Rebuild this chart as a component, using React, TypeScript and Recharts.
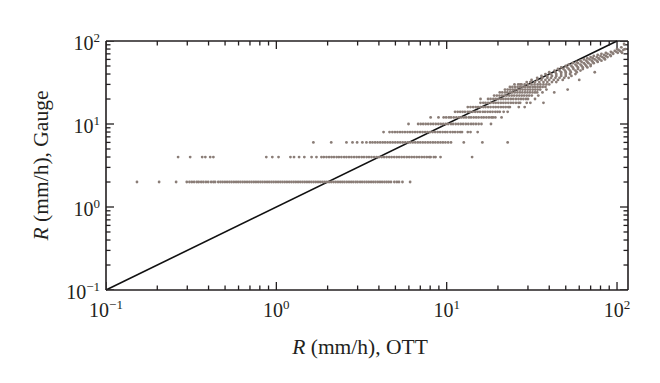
import React from 'react';
import { ScatterChart, Scatter, XAxis, YAxis, ReferenceLine, Label } from 'recharts';

// OTT rain rate (x) observed for each quantized gauge rain rate (y), mm/h
const ott_g2 = [0.152,0.205,0.258,0.298,0.309,0.319,0.329,0.341,0.35,0.362,0.373,0.386,0.398,0.414,0.427,0.437,0.456,0.47,0.484,0.499,0.514,0.53,0.546,0.563,0.58,0.597,0.615,0.634,0.653,0.673,0.694,0.715,0.737,0.759,0.782,0.806,0.83,0.856,0.882,0.908,0.936,0.964,0.994,1.024,1.055,1.087,1.12,1.154,1.19,1.226,1.263,1.301,1.341,1.382,1.424,1.467,1.512,1.558,1.605,1.654,1.704,1.756,1.809,1.864,1.921,1.979,2.04,2.1,2.165,2.23,2.3,2.37,2.44,2.51,2.59,2.67,2.75,2.83,2.92,3.0,3.1,3.19,3.29,3.39,3.49,3.6,3.71,3.82,3.94,4.06,4.18,4.31,4.44,4.57,4.71,4.93,5.1,5.25,5.5,6.1];
const ott_g4 = [0.265,0.312,0.367,0.383,0.409,0.427,0.873,0.947,1.03,1.21,1.27,1.36,1.46,1.61,1.72,1.84,1.9,1.97,2.04,2.11,2.18,2.26,2.33,2.41,2.5,2.58,2.67,2.76,2.86,2.96,3.06,3.17,3.27,3.39,3.5,3.62,3.75,3.88,4.01,4.15,4.29,4.44,4.6,4.75,4.92,5.09,5.26,5.44,5.63,5.83,6.03,6.23,6.45,6.67,6.9,7.14,7.39,7.64,7.9,8.05,8.4,8.6,9.2,14.1];
const ott_g6 = [1.65,2.1,2.58,2.8,2.98,3.2,3.38,3.55,3.67,3.8,3.93,4.07,4.21,4.35,4.5,4.66,4.82,4.99,5.16,5.34,5.52,5.71,5.91,6.11,6.32,6.54,6.77,7.0,7.24,7.49,7.75,8.02,8.3,8.58,8.88,9.19,9.5,9.83,10.2,10.6,12.6,16.2,22.8];
const ott_g8 = [4.26,4.62,4.8,4.97,5.14,5.32,5.5,5.69,5.89,6.09,6.3,6.52,6.74,6.98,7.22,7.47,7.72,7.99,8.27,8.55,8.85,9.15,9.47,9.8,10.1,10.5,10.85,11.2,11.6,12.0,12.3,13.3,13.8,15.2];
const ott_g10 = [5.97,6.8,7.04,7.28,7.53,7.79,8.06,8.34,8.63,8.93,9.23,9.55,9.88,10.2,10.6,10.9,11.3,11.7,12.1,12.5,12.95,13.4,13.9,14.35,14.85,15.4,16.0,18.2];
const ott_g12 = [8.05,8.95,9.6,9.93,10.3,10.6,11.0,11.4,11.8,12.2,12.6,13.0,13.5,13.9,14.4,14.9,15.4,16.0,16.5,17.1,17.7,18.3,18.7,19.3,21.0];
const ott_g14 = [11.2,11.6,12.0,12.4,12.8,13.3,13.7,14.2,14.7,15.2,15.7,16.3,16.8,17.4,18.0,18.6,19.3,19.9,20.5,21.6,22.8];
const ott_g16 = [13.3,13.8,14.3,14.8,15.3,15.8,16.4,16.9,17.5,18.1,18.8,19.4,20.1,20.8,21.5,22.2,23.0,23.5,26.5,28.7];
const ott_g18 = [15.8,16.4,16.9,17.5,18.1,18.8,19.4,20.1,20.8,21.5,22.2,23.0,23.8,24.6,25.5,26.4,27.0,29.5,31.0,37.0];
const ott_g20 = [15.8,17.5,18.1,18.8,19.4,20.1,20.8,21.5,22.2,23.0,23.8,24.6,25.5,26.4,27.3,28.2,29.2,30.0,33.0];
const ott_g22 = [19.0,19.7,20.4,21.1,21.8,22.5,23.3,24.1,24.9,25.8,26.7,27.6,28.5,29.5,30.5,31.6,34.5];
const ott_g24 = [20.5,21.2,22.0,22.7,23.5,24.3,25.1,26.0,26.9,27.8,28.8,29.8,30.8,31.9,33.0,34.0,36.5,42.8];
const ott_g26 = [22.0,22.8,23.6,24.4,25.2,26.1,27.0,27.9,28.9,29.9,30.9,32.0,33.1,34.2,35.4,38.5,51.3];
const ott_g28 = [23.5,24.3,25.2,26.1,27.0,27.9,28.9,29.9,30.9,32.0,33.1,34.2,35.4,36.6,38.0];
const ott_g30 = [25.0,26.3,27.0,27.5,28.7,30.0,31.5,32.8,34.2,35.5,37.0,38.5,40.0];
const ott_g32 = [29.5,31,33,35,37,39,41.5,44];
const ott_g34 = [31.5,34,36,38,40,42.5,45,48,60];
const ott_g36 = [34,36.5,39,41,43.5,46,49,52];
const ott_g38 = [36,39,41.5,44,47,50,54];
const ott_g40 = [38,41,44,47,50,53,57];
const ott_g42 = [40,43.5,47,50,53.5,58,74];
const ott_g44 = [43,46,49.5,53,57,61];
const ott_g46 = [45,48.5,52,55.5,59,63];
const ott_g48 = [47,51,55,59,63,67];
const ott_g50 = [50,54,58,62,66,70];
const ott_g52 = [52,57,61,65,70];
const ott_g54 = [55,59,64,68,73];
const ott_g56 = [58,62,67,72,77];
const ott_g58 = [61,66,71,76,81];
const ott_g60 = [64,69,74,79,85];
const ott_g62 = [67,72,78,84];
const ott_g64 = [70,76,82,88];
const ott_g66 = [73,80,86,92];
const ott_g68 = [77,84,91];
const ott_g70 = [81,88,95];
const ott_g72 = [86,94,101,107];
const ott_g74 = [92,99,106];
const ott_g76 = [97,104];
const ott_g78 = [102,109];
const ott_g80 = [100,112];
const ott_g84 = [106];
const ott_g92 = [110];

const GAUGE_ROWS: [number, number[]][] = [
  [2, ott_g2], [4, ott_g4], [6, ott_g6], [8, ott_g8], [10, ott_g10], [12, ott_g12],
  [14, ott_g14], [16, ott_g16], [18, ott_g18], [20, ott_g20], [22, ott_g22], [24, ott_g24],
  [26, ott_g26], [28, ott_g28], [30, ott_g30], [32, ott_g32], [34, ott_g34], [36, ott_g36],
  [38, ott_g38], [40, ott_g40], [42, ott_g42], [44, ott_g44], [46, ott_g46], [48, ott_g48],
  [50, ott_g50], [52, ott_g52], [54, ott_g54], [56, ott_g56], [58, ott_g58], [60, ott_g60],
  [62, ott_g62], [64, ott_g64], [66, ott_g66], [68, ott_g68], [70, ott_g70], [72, ott_g72],
  [74, ott_g74], [76, ott_g76], [78, ott_g78], [80, ott_g80], [84, ott_g84], [92, ott_g92],
];

const X_DOMAIN: [number, number] = [0.1, 116];
const Y_DOMAIN: [number, number] = [0.1, 100];
const X_TICKS = [0.1,0.2,0.3,0.4,0.5,0.6,0.7,0.8,0.9,1,2,3,4,5,6,7,8,9,10,20,30,40,50,60,70,80,90,100];
const Y_TICKS = [0.1,0.2,0.3,0.4,0.5,0.6,0.7,0.8,0.9,1,2,3,4,5,6,7,8,9,10,20,30,40,50,60,70,80,90,100];
const MAJOR_VALUES = [0.1, 1, 10, 100];
const MAJOR_EXPONENTS = ['\u22121', '0', '1', '2'];
const ONE_TO_ONE = [{ x: 0.1, y: 0.1 }, { x: 100, y: 100 }];

const data = GAUGE_ROWS.flatMap(([g, xs]) => xs.map((x) => ({ x, y: g })));

const FONT = '"Liberation Serif", "Times New Roman", serif';
const INK = '#231f20';
const DOT = '#8a7d77';
const MAJOR_LEN = 8;
const MINOR_LEN = 4.5;
const TICK_W = 1.3;
const MARK_COLOR = INK;

const majorIndex = (v: number) => MAJOR_VALUES.findIndex((m) => Math.abs(m - v) < 1e-9);

// tick-mark anchors placed on the four frame edges through the chart's own scales
const bottomMarks = X_TICKS.map((v) => ({ x: v, y: Y_DOMAIN[0], major: majorIndex(v) >= 0 }));
const topMarks = X_TICKS.map((v) => ({ x: v, y: Y_DOMAIN[1], major: majorIndex(v) >= 0 }));
const leftMarks = Y_TICKS.map((v) => ({ x: X_DOMAIN[0], y: v, major: majorIndex(v) >= 0 }));
const rightMarks = Y_TICKS.map((v) => ({ x: X_DOMAIN[1], y: v, major: majorIndex(v) >= 0 }));

const tickLen = (p: any) => (p.major ? MAJOR_LEN : MINOR_LEN);
const UpMark = (p: any) => <rect x={p.cx - TICK_W / 2} y={p.cy - tickLen(p)} width={TICK_W} height={tickLen(p)} fill={MARK_COLOR} />;
const DownMark = (p: any) => <rect x={p.cx - TICK_W / 2} y={p.cy} width={TICK_W} height={tickLen(p)} fill={MARK_COLOR} />;
const RightwardMark = (p: any) => <rect x={p.cx} y={p.cy - TICK_W / 2} width={tickLen(p)} height={TICK_W} fill={MARK_COLOR} />;
const LeftwardMark = (p: any) => <rect x={p.cx - tickLen(p)} y={p.cy - TICK_W / 2} width={tickLen(p)} height={TICK_W} fill={MARK_COLOR} />;

const TickLabel = ({ x, y, anchor, exp }: any) => (
  <text x={x} y={y} textAnchor={anchor} fontFamily={FONT} fontSize={20} fill={INK}>
    10<tspan dy={-8} fontSize={13}>{exp}</tspan>
  </text>
);

const BottomTick = (p: any) => {
  const i = majorIndex(p.payload.value);
  return i >= 0 ? <TickLabel x={p.x} y={p.y + 27} anchor="middle" exp={MAJOR_EXPONENTS[i]} /> : <g />;
};

const LeftTick = (p: any) => {
  const i = majorIndex(p.payload.value);
  return i >= 0 ? <TickLabel x={p.x - 6} y={p.y + 9} anchor="end" exp={MAJOR_EXPONENTS[i]} /> : <g />;
};

const Dot = (p: any) => <circle cx={p.cx} cy={p.cy} r={1.4} fill={DOT} />;

const XTitle = (p: any) => {
  const vb = p.viewBox || { x: 0, y: 0, width: 0, height: 0 };
  return (
    <text x={vb.x + vb.width / 2 - 7} y={vb.y + 64} textAnchor="middle" fontFamily={FONT} fontSize={21.5} fill={INK}>
      <tspan fontStyle="italic">R</tspan> (mm/h), OTT
    </text>
  );
};

const YTitle = (p: any) => {
  const vb = p.viewBox || { x: 0, y: 0, width: 0, height: 0 };
  const cx = vb.x + 48;
  const cy = vb.y + vb.height / 2;
  return (
    <text x={cx} y={cy} transform={`rotate(-90, ${cx}, ${cy})`} textAnchor="middle" fontFamily={FONT} fontSize={21.5} fill={INK}>
      <tspan fontStyle="italic">R</tspan> (mm/h), Gauge
    </text>
  );
};

const axisLine = { stroke: INK, strokeWidth: 1.6 };

export default function App() {
  return (
    <div style={{ position: 'absolute', left: 0, top: 0, width: 660, height: 383, background: '#fff' }}>
      <ScatterChart width={660} height={383} margin={{ top: 40, right: 31, bottom: 0, left: 0 }}>
        <XAxis
          dataKey="x" type="number" scale="log" domain={X_DOMAIN} allowDataOverflow
          ticks={X_TICKS} interval={0} tickSize={0} tickMargin={0} tickLine={false}
          axisLine={axisLine} height={93} tick={(p: any) => <BottomTick {...p} />}
        >
          <Label content={(p: any) => <XTitle {...p} />} />
        </XAxis>
        <XAxis
          xAxisId="top" dataKey="x" orientation="top" type="number" scale="log" domain={X_DOMAIN} allowDataOverflow
          ticks={X_TICKS} interval={0} tickSize={0} tickMargin={0} tickLine={false}
          axisLine={axisLine} height={1} tick={false}
        />
        <YAxis
          dataKey="y" type="number" scale="log" domain={Y_DOMAIN} allowDataOverflow
          ticks={Y_TICKS} interval={0} tickSize={0} tickMargin={0} tickLine={false}
          axisLine={axisLine} width={106} tick={(p: any) => <LeftTick {...p} />}
        >
          <Label content={(p: any) => <YTitle {...p} />} />
        </YAxis>
        <YAxis
          yAxisId="right" dataKey="y" orientation="right" type="number" scale="log" domain={Y_DOMAIN} allowDataOverflow
          ticks={Y_TICKS} interval={0} tickSize={0} tickMargin={0} tickLine={false}
          axisLine={axisLine} width={1} tick={false}
        />
        <Scatter data={bottomMarks} isAnimationActive={false} shape={(p: any) => <UpMark {...p} />} />
        <Scatter data={topMarks} isAnimationActive={false} shape={(p: any) => <DownMark {...p} />} />
        <Scatter data={leftMarks} isAnimationActive={false} shape={(p: any) => <RightwardMark {...p} />} />
        <Scatter data={rightMarks} isAnimationActive={false} shape={(p: any) => <LeftwardMark {...p} />} />
        <Scatter xAxisId="top" yAxisId="right" data={ONE_TO_ONE} isAnimationActive={false} shape={(p: any) => <g />} />
        <Scatter data={data} isAnimationActive={false} shape={(p: any) => <Dot {...p} />} />
        <ReferenceLine segment={ONE_TO_ONE} stroke="#111" strokeWidth={1.6} ifOverflow="visible" />
      </ScatterChart>
    </div>
  );
}
